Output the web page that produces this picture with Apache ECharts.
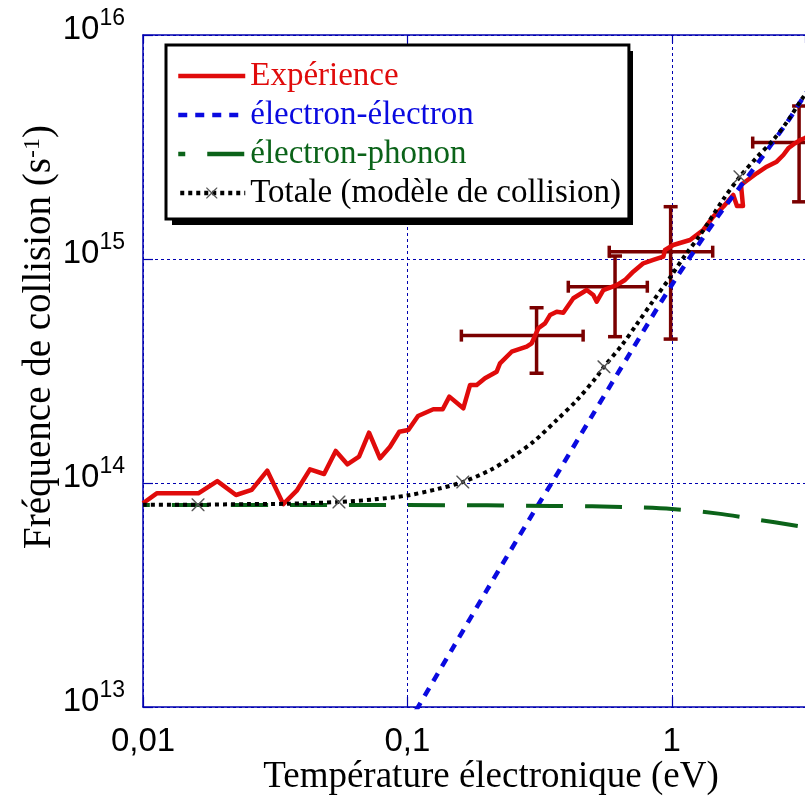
<!DOCTYPE html>
<html><head><meta charset="utf-8">
<script src="https://cdn.jsdelivr.net/npm/echarts@6/dist/echarts.min.js"></script>
<style>html,body{margin:0;padding:0;background:#fff}#c{width:805px;height:803px}</style>
</head><body><div id="c"></div>
<script>
// Expérience
const redX=[0.01,0.01127,0.01619,0.0191,0.02248,0.02577,0.02952,0.03394,0.03814,0.04281,0.0484,0.05357,0.05928,0.06563,0.07161,0.07877,0.08596,0.0932,0.1008,0.1097,0.1253,0.136,0.1441,0.1627,0.1725,0.1829,0.1965,0.2176,0.224,0.248,0.2826,0.2952,0.3127,0.3315,0.3463,0.3671,0.3887,0.4242,0.4766,0.5048,0.52,0.5508,0.6188,0.6653,0.7149,0.7803,0.8511,0.9288,0.9425,1.013,1.172,1.315,1.435,1.566,1.708,1.764,1.859,1.827,1.976,2.095,2.285,2.493,2.641,2.758,2.924,3.054,3.19,3.4];
const redY=[8.12e13,8.99e13,8.99e13,1.02e14,8.84e13,9.31e13,1.135e14,8.05e13,9.24e13,1.151e14,1.097e14,1.39e14,1.212e14,1.31e14,1.677e14,1.289e14,1.452e14,1.694e14,1.725e14,1.991e14,2.133e14,2.133e14,2.43e14,2.156e14,2.738e14,2.738e14,2.934e14,3.14e14,3.42e14,3.855e14,4.06e14,4.205e14,4.905e14,5.16e14,5.62e14,5.82e14,5.76e14,6.68e14,7.27e14,6.91e14,6.45e14,7.27e14,7.65e14,8.06e14,8.78e14,9.57e14,9.9e14,1.024e15,1.097e15,1.155e15,1.216e15,1.348e15,1.545e15,1.712e15,1.931e15,1.725e15,1.725e15,2.14e15,2.293e15,2.413e15,2.583e15,2.719e15,2.913e15,3.12e15,3.285e15,3.398e15,3.47e15,3.55e15];
// électron-électron
const blueX=[0.1,0.15,0.2,0.3,0.3513,0.5,0.7,1.0,1.5,2.0,2.72,3.19,4.0];
const blueY=[8.3e12,1.87e13,3.33e13,7.4e13,1.0e14,2.0e14,3.85e14,7.66e14,1.56e15,2.45e15,4.05e15,5.4e15,7.8e15];
// électron-phonon
const greenX=[0.01,0.05,0.1,0.2,0.35,0.5,0.7,1.0,1.5,2.0,3.0,4.0];
const greenY=[7.98e13,7.98e13,7.97e13,7.95e13,7.9e13,7.87e13,7.8e13,7.66e13,7.3e13,6.93e13,6.43e13,6.05e13];
// Totale (modèle de collision)
const blackX=[0.01,0.01615,0.025,0.035,0.0551,0.075,0.1,0.13,0.162,0.205,0.25,0.3,0.367,0.44,0.52,0.554,0.65,0.736,0.85,0.98,1.13,1.28,1.567,1.81,2.1,2.42,2.75,3.06,3.5,4.0];
const blackY=[7.99e13,8.0e13,8.05e13,8.08e13,8.23e13,8.45e13,8.8e13,9.4e13,1.01e14,1.14e14,1.31e14,1.53e14,1.91e14,2.36e14,2.98e14,3.3e14,4.15e14,5.1e14,6.5e14,8.2e14,1.05e15,1.28e15,1.85e15,2.33e15,2.85e15,3.4e15,4.15e15,5.05e15,6.3e15,7.9e15];
const blackMarkerX=[0.01615,0.0551,0.162,0.554,1.81];
// error bars
const ebX=[0.308,0.61,0.99,3.03];
const ebY=[4.55e14,7.52e14,1.078e15,3.31e15];
const ebXlo=[0.16,0.406,0.58,2.023];
const ebXhi=[0.462,0.808,1.428,4.03];
const ebYlo=[3.09e14,4.5e14,4.39e14,1.8e15];
const ebYhi=[6.06e14,1.031e15,1.712e15,4.82e15];
// axis labels
const xTickLabels={'0.01':'0,01','0.1':'0,1','1':'1'};

const serif='"Liberation Serif","Times New Roman",serif';
const sans='"Liberation Sans",Arial,sans-serif';
const C_RED='#e00b0b', C_BLUE='#0a0ae0', C_GREEN='#0b6319', C_AX='#0000b0';
const xPath='path://M0,0L0.8,0L5,4.2L9.2,0L10,0L10,0.8L5.8,5L10,9.2L10,10L9.2,10L5,5.8L0.8,10L0,10L0,9.2L4.2,5L0,0.8Z';

const pair=(xs,ys)=>xs.map((x,i)=>[x,ys[i]]);
const blackData=blackX.map((x,i)=>blackMarkerX.indexOf(x)>=0?{value:[x,blackY[i]]}:{value:[x,blackY[i]],symbol:'none'});
const ebData=ebX.map((x,i)=>[x,ebY[i],ebXlo[i],ebXhi[i],ebYlo[i],ebYhi[i]]);

const chart=echarts.init(document.getElementById('c'));
const gridLine={show:true,lineStyle:{color:C_AX,type:[3,3],width:1}};
const noSym={opacity:0};
chart.setOption({
  animation:false,
  backgroundColor:'#fff',
  grid:{left:143,right:0,top:35,bottom:96},
  xAxis:[{
    type:'log',logBase:10,min:0.01,max:3.19,
    axisLine:{show:true,lineStyle:{color:C_AX,width:1.5}},
    axisTick:{show:true,inside:true,length:10,lineStyle:{color:C_AX,width:1.2}},
    minorTick:{show:false},
    splitLine:gridLine,
    axisLabel:{margin:18,fontSize:33,fontFamily:sans,color:'#000',showMaxLabel:false,
      formatter:v=>{const k=String(Number(v.toPrecision(6)));return xTickLabels[k]!==undefined?xTickLabels[k]:'';}}
  },{
    type:'log',logBase:10,min:0.01,max:3.19,position:'top',
    axisLine:{show:true,onZero:false,lineStyle:{color:C_AX,width:1.5}},
    axisTick:{show:true,inside:true,length:8,lineStyle:{color:C_AX,width:1.2}},
    axisLabel:{show:false},splitLine:{show:false}
  }],
  yAxis:{
    type:'log',logBase:10,min:1e13,max:1e16,
    axisLine:{show:true,lineStyle:{color:C_AX,width:1.5}},
    axisTick:{show:true,inside:true,length:10,lineStyle:{color:C_AX,width:1.2}},
    minorTick:{show:false},
    splitLine:gridLine,
    axisLabel:{margin:18,
      formatter:v=>'{b|10}{s|'+Math.round(Math.log10(v))+'}',
      rich:{
        b:{fontSize:33,fontFamily:sans,color:'#000',padding:[6,0,16,0]},
        s:{fontSize:23,fontFamily:sans,color:'#000',verticalAlign:'top'}
      }}
  },
  legend:{
    orient:'vertical',left:166,top:45,z:10,
    backgroundColor:'#fff',borderColor:'#000',borderWidth:3,
    padding:[14,8,9,10],itemGap:5,itemWidth:67,itemHeight:14,
    lineStyle:{width:4.5},
    textStyle:{fontFamily:serif,fontSize:33,lineHeight:34},
    data:[
      {name:'Expérience',textStyle:{color:C_RED},itemStyle:noSym},
      {name:'électron-électron',textStyle:{color:C_BLUE},itemStyle:noSym},
      {name:'électron-phonon',textStyle:{color:C_GREEN},itemStyle:noSym},
      {name:'Totale (modèle de collision)',textStyle:{color:'#000'}}
    ]
  },
  series:[
    {name:'Expérience',type:'line',data:pair(redX,redY),symbol:'none',
      lineStyle:{color:C_RED,width:4.5,join:'round'},itemStyle:{color:C_RED}},
    {name:'électron-électron',type:'line',data:pair(blueX,blueY),symbol:'none',smooth:0.3,
      lineStyle:{color:C_BLUE,width:4.5,type:[9,8]},itemStyle:{color:C_BLUE}},
    {name:'électron-phonon',type:'line',data:pair(greenX,greenY),symbol:'none',smooth:0.3,
      lineStyle:{color:C_GREEN,width:4,type:[37,22],dashOffset:30},itemStyle:{color:C_GREEN}},
    {name:'Totale (modèle de collision)',type:'line',data:blackData,smooth:0.3,
      symbol:xPath,symbolSize:13,
      lineStyle:{color:'#000',width:4,type:[4,4]},itemStyle:{color:'#555'}},
    {name:'errbar',type:'custom',clip:false,data:ebData,
      encode:{x:[0,2,3],y:[1,4,5]},
      renderItem:function(params,api){
        const c=api.coord([api.value(0),api.value(1)]);
        const xl=api.coord([api.value(2),api.value(1)])[0];
        const xh=api.coord([api.value(3),api.value(1)])[0];
        const yl=api.coord([api.value(0),api.value(4)])[1];
        const yh=api.coord([api.value(0),api.value(5)])[1];
        const st={stroke:'#7a0000',lineWidth:3.5,fill:null};
        const L=(x1,y1,x2,y2)=>({type:'line',shape:{x1,y1,x2,y2},style:st});
        return {type:'group',children:[
          L(xl,c[1],xh,c[1]),L(c[0],yl,c[0],yh),
          L(xl,c[1]-6,xl,c[1]+6),L(xh,c[1]-6,xh,c[1]+6),
          L(c[0]-7,yl,c[0]+7,yl),L(c[0]-7,yh,c[0]+7,yh)
        ]};
      }}
  ],
  graphic:[
    {type:'rect',z:9,shape:{x:172,y:51,width:461,height:174},style:{fill:'#000'}},
    {type:'text',x:491,y:777,style:{text:'Température électronique (eV)',font:'37px '+serif,fill:'#000',
      textAlign:'center',textVerticalAlign:'middle',align:'center',verticalAlign:'middle'}},
    {type:'text',x:40,y:337,rotation:Math.PI/2,style:{
      text:'{a|Fréquence de collision (s}{b|-1}{a|)}',
      rich:{a:{font:'39px '+serif,fill:'#000'},b:{font:'24px '+serif,fill:'#000',verticalAlign:'top'}},
      textAlign:'center',textVerticalAlign:'middle',align:'center',verticalAlign:'middle'}}
  ]
});
</script></body></html>
